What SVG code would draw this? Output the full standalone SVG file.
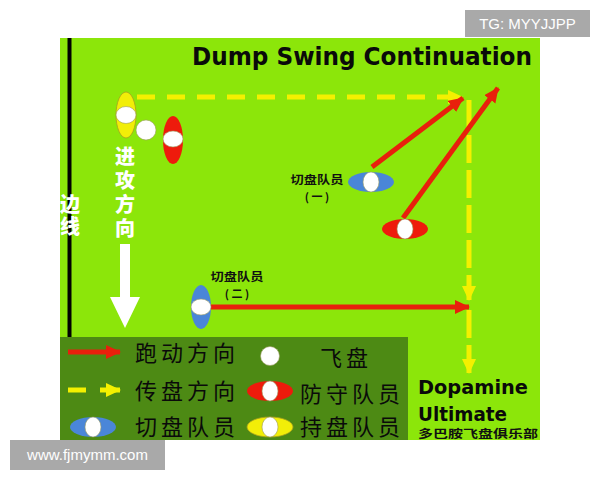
<svg xmlns="http://www.w3.org/2000/svg" width="600" height="480" viewBox="0 0 600 480">
<style>
.run{stroke:#e8200c;stroke-width:5;fill:none}
.pass{stroke:#f4f000;stroke-width:5;fill:none}
.disc{fill:#ffffff;stroke:#9a9a60;stroke-width:0.6}
.cut{fill:#4a86d8}
.def{fill:#ee1b0c}
.hold{fill:#f2ee08;stroke:#a8a020;stroke-width:0.8}
.lbl{font-family:"Noto Sans CJK SC","Noto Sans",sans-serif;font-weight:700;font-size:11px;fill:#111}
.leg{font-family:"Noto Sans CJK SC",sans-serif;font-weight:400;font-size:22px;fill:#0a0a0a;letter-spacing:4px}
.big{font-family:"DejaVu Sans",sans-serif;font-weight:700;fill:#0a0a0a}
.vert{font-family:"Noto Sans CJK SC",sans-serif;font-weight:900;font-size:20px;fill:#ffffff;writing-mode:vertical-rl;text-orientation:upright}
.wm{font-family:"Liberation Sans",Arial,sans-serif;font-size:15px;fill:#ffffff}
</style>
<defs>
<marker id="ra" markerUnits="userSpaceOnUse" markerWidth="18" markerHeight="16" refX="14" refY="7" orient="auto"><path d="M0,0 L15,7 L0,14 Z" fill="#e8200c"/></marker>
<marker id="ya" markerUnits="userSpaceOnUse" markerWidth="18" markerHeight="16" refX="14" refY="7" orient="auto"><path d="M0,0 L15,7 L0,14 Z" fill="#f4f000"/></marker>
</defs>
<rect width="600" height="480" fill="#ffffff"/>
<rect x="60" y="38" width="480" height="402" fill="#8ce60a"/>
<rect x="60" y="337" width="348" height="103" fill="#4d8a14"/>
<g id="sideline">
<line x1="69.5" y1="38" x2="69.5" y2="337" stroke="#000" stroke-width="4"/>
<text class="vert" x="70" y="194" style="letter-spacing:2px">边线</text>
</g>
<g id="attack-direction">
<text class="vert" x="125" y="146" style="letter-spacing:4px">进攻方向</text>
<path d="M120,244 L130,244 L130,297 L140,297 L125,328 L110,297 L120,297 Z" fill="#fff"/>
</g>
<text id="title" class="big" x="192" y="65" font-size="24" textLength="340" lengthAdjust="spacingAndGlyphs">Dump Swing Continuation</text>
<g id="connectors">
<line class="pass" x1="137" y1="97" x2="462" y2="97" stroke-dasharray="18 12" marker-end="url(#ya)"/>
<line class="pass" x1="469" y1="100" x2="469" y2="300" stroke-dasharray="28 7" marker-end="url(#ya)"/>
<line class="pass" x1="469" y1="310" x2="469" y2="373" stroke-dasharray="28 7" marker-end="url(#ya)"/>
<line class="run" x1="372" y1="167" x2="463" y2="98" marker-end="url(#ra)"/>
<line class="run" x1="403" y1="218" x2="498" y2="88" marker-end="url(#ra)"/>
<line class="run" x1="210" y1="307" x2="469" y2="307" marker-end="url(#ra)"/>
</g>
<g id="handler">
<ellipse class="hold" cx="126" cy="115" rx="10" ry="23"/>
<ellipse class="disc" cx="126" cy="115" rx="10" ry="8.5"/>
</g>
<g id="frisbee"><circle class="disc" cx="146" cy="130" r="10"/></g>
<g id="defender-1">
<ellipse class="def" cx="173" cy="140" rx="10" ry="24"/>
<ellipse class="disc" cx="173" cy="139" rx="10" ry="8"/>
</g>
<g id="cutter-1">
<ellipse class="cut" cx="371" cy="182" rx="23" ry="10"/>
<ellipse class="disc" cx="371" cy="182" rx="8" ry="10"/>
<text class="lbl" x="317" y="184" text-anchor="middle" textLength="53" lengthAdjust="spacingAndGlyphs">切盘队员</text>
<text class="lbl" x="317" y="201" text-anchor="middle">( 一 )</text>
</g>
<g id="defender-2">
<ellipse class="def" cx="405" cy="229" rx="23" ry="10"/>
<ellipse class="disc" cx="405" cy="229" rx="8" ry="10"/>
</g>
<g id="cutter-2">
<ellipse class="cut" cx="201" cy="307" rx="10" ry="22"/>
<ellipse class="disc" cx="201" cy="307" rx="10" ry="8"/>
<text class="lbl" x="237" y="281" text-anchor="middle" textLength="53" lengthAdjust="spacingAndGlyphs">切盘队员</text>
<text class="lbl" x="237" y="298" text-anchor="middle">( 二 )</text>
</g>
<g id="legend">
<line class="run" x1="68" y1="352" x2="120" y2="352" marker-end="url(#ra)"/>
<text class="leg" x="135" y="361">跑动方向</text>
<circle class="disc" cx="270" cy="356" r="9.5"/>
<text class="leg" x="320" y="366">飞盘</text>
<line class="pass" x1="68" y1="390" x2="86" y2="390"/>
<line class="pass" x1="100" y1="390" x2="120" y2="390" marker-end="url(#ya)"/>
<text class="leg" x="135" y="399">传盘方向</text>
<ellipse class="def" cx="270" cy="391" rx="23" ry="10"/>
<ellipse class="disc" cx="270" cy="391" rx="8" ry="10"/>
<text class="leg" x="300" y="402">防守队员</text>
<ellipse class="cut" cx="93" cy="427" rx="23" ry="10"/>
<ellipse class="disc" cx="93" cy="427" rx="8" ry="10"/>
<text class="leg" x="135" y="435">切盘队员</text>
<ellipse class="hold" cx="270" cy="427" rx="23" ry="10"/>
<ellipse class="disc" cx="270" cy="427" rx="8" ry="10"/>
<text class="leg" x="300" y="435">持盘队员</text>
</g>
<g id="club">
<text class="big" x="418" y="394" font-size="20" textLength="110" lengthAdjust="spacingAndGlyphs">Dopamine</text>
<text class="big" x="418" y="421" font-size="19" textLength="89" lengthAdjust="spacingAndGlyphs">Ultimate</text>
<text x="418" y="438" font-family="Noto Sans CJK SC,sans-serif" font-weight="700" font-size="11" fill="#111" textLength="120" lengthAdjust="spacingAndGlyphs">多巴胺飞盘俱乐部</text>
</g>
<g id="watermarks">
<rect x="465" y="10" width="125" height="27" fill="#a9a9a9"/>
<text class="wm" x="527.5" y="29" text-anchor="middle">TG: MYYJJPP</text>
<rect x="10" y="440" width="155" height="30" fill="#a9a9a9"/>
<text class="wm" x="87.5" y="460" text-anchor="middle">www.fjmymm.com</text>
</g>
</svg>
